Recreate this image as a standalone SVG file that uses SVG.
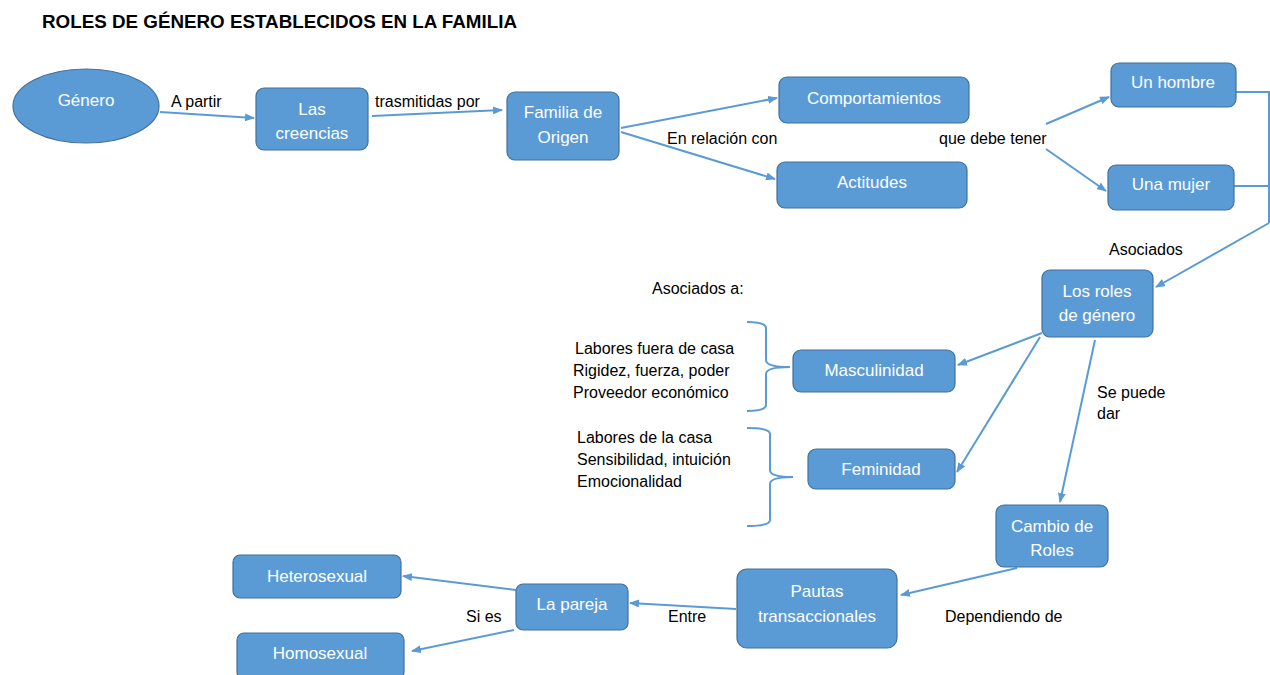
<svg xmlns="http://www.w3.org/2000/svg" width="1270" height="675" viewBox="0 0 1270 675">
<style>
.n{fill:#5B9BD5;stroke:#41719C;stroke-width:1.2}
.t{font-family:"Liberation Sans",Arial,sans-serif;font-size:17px;fill:#fff;text-anchor:middle}
.l{font-family:"Liberation Sans",Arial,sans-serif;font-size:16px;fill:#000}
.c{stroke:#5B9BD5;stroke-width:2;fill:none}
.a{marker-end:url(#ah)}
</style>
<defs>
<marker id="ah" markerWidth="10" markerHeight="8" refX="9" refY="4" orient="auto" markerUnits="userSpaceOnUse">
<path d="M0,0 L10,4 L0,8 Z" fill="#5B9BD5"/>
</marker>
</defs>
<rect width="1270" height="675" fill="#fff"/>
<text x="42" y="28" font-family="Liberation Sans,Arial,sans-serif" font-size="18" font-weight="bold" textLength="475" lengthAdjust="spacingAndGlyphs">ROLES DE GÉNERO ESTABLECIDOS EN LA FAMILIA</text>

<g id="connectors">
<line class="c a" x1="160" y1="112" x2="254" y2="118"/>
<line class="c a" x1="372" y1="116" x2="502" y2="110"/>
<line class="c a" x1="621" y1="128" x2="777" y2="98"/>
<line class="c a" x1="621" y1="132" x2="775" y2="179"/>
<line class="c a" x1="1046" y1="124" x2="1109" y2="97"/>
<line class="c a" x1="1046" y1="149" x2="1106" y2="191"/>
<polyline class="c" points="1236,92 1269,92 1269,223"/>
<line class="c" x1="1234" y1="186" x2="1269" y2="186"/>
<line class="c a" x1="1269" y1="223" x2="1156" y2="287"/>
<line class="c a" x1="1042" y1="333" x2="958" y2="365"/>
<line class="c a" x1="1040" y1="337" x2="957" y2="472"/>
<line class="c a" x1="1095" y1="340" x2="1060" y2="502"/>
<line class="c a" x1="1017" y1="568" x2="901" y2="595"/>
<line class="c a" x1="736" y1="609" x2="630" y2="603"/>
<line class="c a" x1="516" y1="590" x2="403" y2="576"/>
<line class="c a" x1="514" y1="630" x2="412" y2="651"/>
<path class="c" stroke-width="1.5" d="M747,322 Q766,322 766,328 L766,360 Q766,367 790,367 Q766,367 766,374 L766,405 Q766,411 747,411"/>
<path class="c" stroke-width="1.5" d="M747,428 Q770,428 770,434 L770,470 Q770,477 793,477 Q770,477 770,484 L770,520 Q770,526 747,526"/>
</g>

<g id="n-genero"><ellipse class="n" cx="86" cy="106" rx="73" ry="37"/><text class="t" x="86" y="106">Género</text></g>
<g id="n-creencias"><rect class="n" x="256" y="88" width="112" height="62" rx="8"/><text class="t" x="312" y="115">Las</text><text class="t" x="312" y="139">creencias</text></g>
<g id="n-familia"><rect class="n" x="507" y="92" width="112" height="68" rx="8"/><text class="t" x="563" y="118">Familia de</text><text class="t" x="563" y="143">Origen</text></g>
<g id="n-comport"><rect class="n" x="779" y="77" width="190" height="46" rx="8"/><text class="t" x="874" y="104">Comportamientos</text></g>
<g id="n-actitudes"><rect class="n" x="777" y="162" width="190" height="46" rx="8"/><text class="t" x="872" y="188">Actitudes</text></g>
<g id="n-hombre"><rect class="n" x="1111" y="63" width="125" height="44" rx="8"/><text class="t" x="1173" y="88">Un hombre</text></g>
<g id="n-mujer"><rect class="n" x="1108" y="165" width="126" height="45" rx="8"/><text class="t" x="1171" y="190">Una mujer</text></g>
<g id="n-roles"><rect class="n" x="1042" y="270" width="111" height="67" rx="8"/><text class="t" x="1097" y="297">Los roles</text><text class="t" x="1097" y="321">de género</text></g>
<g id="n-masc"><rect class="n" x="793" y="350" width="162" height="42" rx="8"/><text class="t" x="874" y="376">Masculinidad</text></g>
<g id="n-fem"><rect class="n" x="808" y="449" width="147" height="40" rx="8"/><text class="t" x="881" y="475">Feminidad</text></g>
<g id="n-cambio"><rect class="n" x="996" y="505" width="112" height="62" rx="8"/><text class="t" x="1052" y="532">Cambio de</text><text class="t" x="1052" y="556">Roles</text></g>
<g id="n-pautas"><rect class="n" x="737" y="569" width="160" height="79" rx="10"/><text class="t" x="817" y="597">Pautas</text><text class="t" x="817" y="622">transaccionales</text></g>
<g id="n-pareja"><rect class="n" x="516" y="584" width="112" height="46" rx="7"/><text class="t" x="572" y="610">La pareja</text></g>
<g id="n-hetero"><rect class="n" x="233" y="555" width="168" height="43" rx="7"/><text class="t" x="317" y="582">Heterosexual</text></g>
<g id="n-homo"><rect class="n" x="237" y="633" width="167" height="46" rx="7"/><text class="t" x="320" y="659">Homosexual</text></g>

<g id="labels">
<text class="l" x="171" y="107">A partir</text>
<text class="l" x="375" y="107">trasmitidas por</text>
<text class="l" x="667" y="144">En relación con</text>
<text class="l" x="939" y="144">que debe tener</text>
<text class="l" x="1109" y="255">Asociados</text>
<text class="l" x="652" y="294">Asociados a:</text>
<text class="l" x="575" y="354">Labores fuera de casa</text>
<text class="l" x="573" y="376">Rigidez, fuerza, poder</text>
<text class="l" x="573" y="398">Proveedor económico</text>
<text class="l" x="577" y="443">Labores de la casa</text>
<text class="l" x="577" y="465">Sensibilidad, intuición</text>
<text class="l" x="577" y="487">Emocionalidad</text>
<text class="l" x="1097" y="398">Se puede</text>
<text class="l" x="1097" y="419">dar</text>
<text class="l" x="945" y="622">Dependiendo de</text>
<text class="l" x="668" y="622">Entre</text>
<text class="l" x="466" y="622">Si es</text>
</g>
</svg>
